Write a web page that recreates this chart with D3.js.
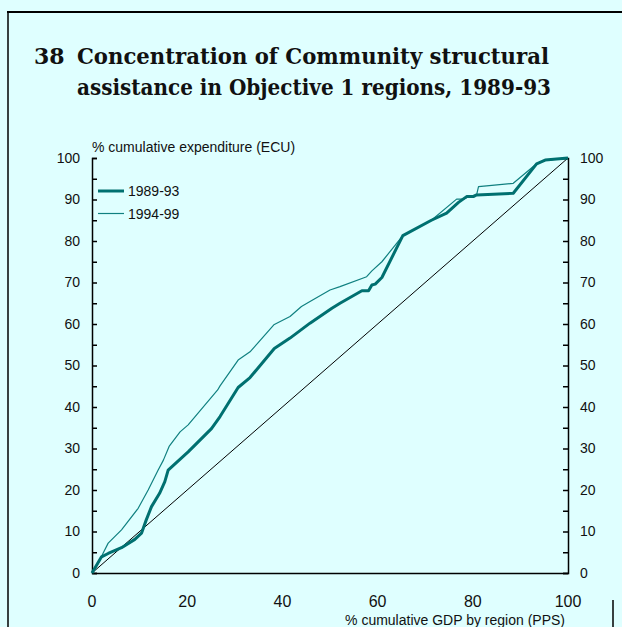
<!DOCTYPE html>
<html>
<head>
<meta charset="utf-8">
<script src="https://cdn.jsdelivr.net/npm/d3@7"></script>
<style>
  html, body { margin: 0; padding: 0; background: #dfffff; }
  svg { display: block; }
</style>
</head>
<body>
<svg id="chart" width="622" height="627"></svg>
<script>
// ---- Data ----
const seriesNames = ["1989-93", "1994-99"];
const x8993 = [0, 2, 3.4, 6.2, 9, 10.4, 11.4, 12.5, 14.2, 15.3, 16, 20.2, 25.1, 26.9, 30.7, 33.2, 38.3, 41.6, 43, 44.4, 45.8, 50.4, 52.1, 56.7, 58.1, 58.8, 59.5, 60.9, 65.3, 71.3, 74.5, 77, 78.7, 80.1, 80.8, 88.5, 93.4, 95.2, 100];
const y8993 = [0, 3.9, 4.7, 6.1, 8.1, 9.6, 12.8, 16, 19.2, 22, 24.8, 29.2, 34.8, 37.7, 44.7, 47.1, 54.1, 56.6, 57.8, 59, 60.2, 63.8, 65, 68, 68, 69.4, 69.6, 71.2, 81.3, 85, 86.7, 89.3, 90.7, 90.7, 91.1, 91.5, 98.6, 99.5, 100];
const x9499 = [0, 1.3, 2.3, 3.4, 6.2, 9.7, 11.8, 13.9, 15, 16.2, 18.5, 20.2, 26.4, 26.9, 30.7, 33.2, 38.2, 41.6, 44, 45.8, 50, 52.1, 57.7, 58.8, 60.9, 65.3, 71.3, 76.6, 78, 79.4, 80.8, 81.2, 82.9, 88.5, 93.4, 95.2, 100];
const y9499 = [0, 2.3, 4.7, 7.2, 10.4, 15.6, 20, 24.8, 27.2, 30.5, 34, 35.7, 44.1, 45.1, 51.3, 53.3, 59.8, 61.8, 64.2, 65.4, 68.2, 69, 71.4, 72.8, 75, 81.3, 85, 90.1, 90.1, 90.8, 91.1, 93.1, 93.3, 93.9, 98.6, 99.4, 100];
const diagonal = [0, 100];
const xTicks = [0, 20, 40, 60, 80, 100];
const yTicks = [0, 10, 20, 30, 40, 50, 60, 70, 80, 90, 100];
const yMinorTicks = [0, 5, 10, 15, 20, 25, 30, 35, 40, 45, 50, 55, 60, 65, 70, 75, 80, 85, 90, 95, 100];
const titleNumber = "38";
const titleLines = ["Concentration of Community structural", "assistance in Objective 1 regions, 1989-93"];
const yAxisTitle = "% cumulative expenditure (ECU)";
const xAxisTitle = "% cumulative GDP by region (PPS)";

// ---- Layout ----
const svg = d3.select("#chart");
const pLeft = 92, pRight = 568, pTop = 158, pBottom = 573;
const x = d3.scaleLinear().domain([0, 100]).range([pLeft, pRight]);
const y = d3.scaleLinear().domain([0, 100]).range([pBottom, pTop]);
const c89 = "#007070", c94 = "#108080";

svg.append("rect").attr("width", 622).attr("height", 627).attr("fill", "#dfffff");

// frame
svg.append("line").attr("x1", 7).attr("x2", 622).attr("y1", 12).attr("y2", 12)
  .attr("stroke", "#000").attr("stroke-width", 2);
svg.append("line").attr("x1", 8).attr("x2", 8).attr("y1", 11).attr("y2", 627)
  .attr("stroke", "#000").attr("stroke-width", 1.5);
svg.append("line").attr("x1", 613).attr("x2", 613).attr("y1", 600).attr("y2", 627)
  .attr("stroke", "#000").attr("stroke-width", 1.5);

// title
const tf = "'DejaVu Serif', serif";
svg.append("text").attr("x", 34).attr("y", 64).text(titleNumber)
  .attr("font-family", tf).attr("font-weight", "bold").attr("font-size", 22).attr("fill", "#111");
titleLines.forEach((t, i) => {
  svg.append("text").attr("x", 77).attr("y", 64 + i * 31).text(t)
    .attr("font-family", tf).attr("font-weight", "bold").attr("font-size", 22).attr("fill", "#111")
    .attr("textLength", i === 0 ? 472 : 474).attr("lengthAdjust", "spacingAndGlyphs");
});

const sf = "'Liberation Sans', Arial, sans-serif";

// axes
const gL = svg.append("g").attr("transform", `translate(${pLeft},0)`)
  .call(d3.axisRight(y).tickValues(yMinorTicks).tickSize(5).tickFormat(""));
const gR = svg.append("g").attr("transform", `translate(${pRight},0)`)
  .call(d3.axisLeft(y).tickValues(yMinorTicks).tickSize(5).tickFormat(""));
const gB = svg.append("g").attr("transform", `translate(0,${pBottom})`)
  .call(d3.axisBottom(x).tickValues(xTicks).tickSize(0).tickFormat(""));
[gL, gR, gB].forEach(g => {
  g.select(".domain").attr("stroke", "#000").attr("stroke-width", 1.5);
  g.selectAll(".tick line").attr("stroke", "#000").attr("stroke-width", 1.5);
});

// tick labels
svg.append("g").selectAll("text").data(yTicks).join("text")
  .attr("x", 80).attr("y", d => y(d)).attr("dy", "0.35em").attr("text-anchor", "end")
  .attr("font-family", sf).attr("font-size", 14).attr("fill", "#111").text(d => d);
svg.append("g").selectAll("text").data(yTicks).join("text")
  .attr("x", 580).attr("y", d => y(d)).attr("dy", "0.35em").attr("text-anchor", "start")
  .attr("font-family", sf).attr("font-size", 14).attr("fill", "#111").text(d => d);
svg.append("g").selectAll("text").data(xTicks).join("text")
  .attr("x", d => x(d)).attr("y", 607).attr("text-anchor", "middle")
  .attr("font-family", sf).attr("font-size", 16).attr("fill", "#111").text(d => d);

svg.append("text").attr("x", 92).attr("y", 152).text(yAxisTitle)
  .attr("font-family", sf).attr("font-size", 14).attr("fill", "#111");
svg.append("text").attr("x", 565).attr("y", 625).attr("text-anchor", "end").text(xAxisTitle)
  .attr("font-family", sf).attr("font-size", 14).attr("fill", "#111");

// diagonal
const line = d3.line().x(d => x(d[0])).y(d => y(d[1]));
svg.append("path").datum(diagonal.map(v => [v, v])).attr("d", line)
  .attr("fill", "none").attr("stroke", "#000").attr("stroke-width", 1);

// series
svg.append("path").datum(x9499.map((v, i) => [v, y9499[i]])).attr("d", line)
  .attr("fill", "none").attr("stroke", c94).attr("stroke-width", 1.2).attr("stroke-linejoin", "round");
svg.append("path").datum(x8993.map((v, i) => [v, y8993[i]])).attr("d", line)
  .attr("fill", "none").attr("stroke", c89).attr("stroke-width", 3).attr("stroke-linejoin", "round");

// legend
const leg = [{ name: seriesNames[0], c: c89, w: 3, y: 191 }, { name: seriesNames[1], c: c94, w: 1.2, y: 213.5 }];
leg.forEach(l => {
  svg.append("line").attr("x1", 98).attr("x2", 124).attr("y1", l.y).attr("y2", l.y)
    .attr("stroke", l.c).attr("stroke-width", l.w);
  svg.append("text").attr("x", 128).attr("y", l.y).attr("dy", "0.36em").text(l.name)
    .attr("font-family", sf).attr("font-size", 14).attr("fill", "#111");
});
</script>
</body>
</html>
